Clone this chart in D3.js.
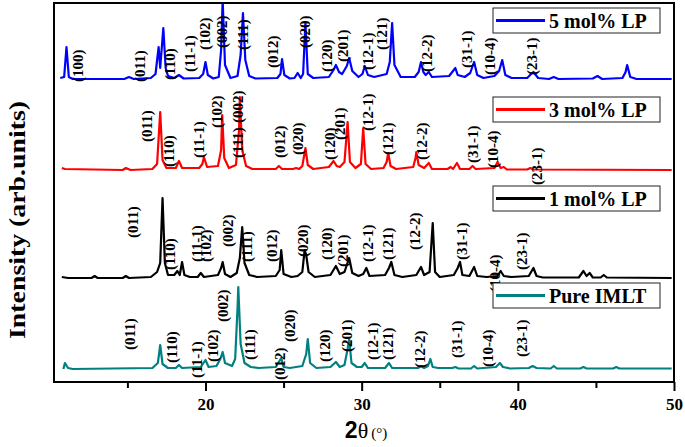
<!DOCTYPE html>
<html><head><meta charset="utf-8">
<script src="https://cdn.jsdelivr.net/npm/d3@7"></script>
<style>body{margin:0;background:#fff}svg{display:block}</style>
</head><body>
<svg id="c" width="685" height="447"></svg>
<script>
// ---------- DATA ----------
const seriesNames = ["5 mol% LP", "3 mol% LP", "1 mol% LP", "Pure IMLT"];
const seriesColors = ["#0000FF", "#FF0000", "#000000", "#008080"];
const seriesOffsets = [2890, 1990, 910, 0]; // stacking offsets (arb. units)
const xTicks = [20, 30, 40, 50];
const xMinorTicks = [15, 25, 35, 45];

const pattern5 = [[10.7,20],[10.95,30],[11.1,330],[11.25,30],[11.5,10],[14.8,10],[15.1,30],[15.4,10],[16.5,20],[16.8,60],[17.0,330],[17.1,120],[17.3,520],[17.45,120],[17.6,40],[18.0,20],[18.3,50],[18.6,15],[19.6,20],[19.85,60],[20.0,180],[20.15,50],[20.5,15],[20.85,30],[21.0,300],[21.1,800],[21.25,150],[21.6,20],[22.05,40],[22.25,250],[22.4,670],[22.55,200],[22.8,40],[23.2,15],[24.6,20],[24.8,60],[24.9,210],[25.05,50],[25.4,15],[25.7,20],[25.9,70],[26.1,20],[26.25,60],[26.4,570],[26.55,60],[26.9,20],[27.9,30],[28.2,100],[28.35,150],[28.55,80],[28.75,60],[29.05,140],[29.2,220],[29.4,90],[29.8,30],[30.05,60],[30.2,140],[30.4,50],[30.8,30],[31.6,60],[31.8,180],[31.95,570],[32.1,150],[32.5,30],[33.4,30],[33.65,80],[33.8,180],[33.95,80],[34.1,50],[34.3,80],[34.5,30],[35.6,40],[35.8,80],[36.0,120],[36.15,50],[36.6,30],[36.95,70],[37.2,180],[37.4,50],[37.8,20],[38.5,40],[38.8,90],[39.0,200],[39.2,50],[39.6,20],[40.6,20],[40.85,60],[41.0,80],[41.3,20],[42.0,10],[42.3,30],[42.6,10],[44.8,15],[45.1,40],[45.4,10],[46.7,20],[46.9,80],[47.0,150],[47.2,30],[47.6,10],[49.85,10]];
const pattern3 = [[10.8,20],[11.0,10],[14.7,0],[14.9,20],[15.2,0],[16.6,10],[16.9,60],[17.1,580],[17.25,100],[17.5,20],[18.1,20],[18.3,90],[18.5,20],[19.6,20],[19.8,60],[19.9,130],[20.1,30],[20.8,40],[21.0,200],[21.07,550],[21.2,120],[21.5,20],[21.95,50],[22.15,400],[22.2,730],[22.35,200],[22.6,40],[23.0,10],[24.5,10],[24.7,40],[24.9,10],[25.6,10],[25.8,20],[26.0,10],[26.2,40],[26.4,220],[26.55,50],[26.9,10],[27.9,30],[28.2,90],[28.4,40],[28.6,30],[28.9,80],[29.1,480],[29.25,80],[29.6,20],[29.95,60],[30.1,420],[30.25,60],[30.6,10],[31.4,20],[31.6,80],[31.7,170],[31.85,40],[32.2,10],[33.3,30],[33.45,120],[33.5,180],[33.65,50],[34.0,20],[34.3,70],[34.5,10],[35.5,10],[35.7,30],[35.85,10],[36.1,70],[36.3,10],[36.9,10],[37.1,40],[37.3,10],[38.5,20],[38.7,80],[38.9,20],[39.1,30],[39.3,5],[40.6,5],[40.8,20],[41.0,5],[49.85,0]];
const pattern1 = [[10.8,10],[11.2,0],[12.7,0],[12.9,20],[13.1,0],[14.7,0],[14.9,20],[15.1,0],[16.5,10],[16.9,60],[17.1,150],[17.25,800],[17.4,150],[17.6,30],[18.0,30],[18.2,70],[18.35,30],[18.5,160],[18.65,30],[19.0,10],[19.5,10],[19.7,50],[19.9,10],[20.8,30],[21.0,100],[21.1,160],[21.25,40],[21.6,10],[22.0,50],[22.2,200],[22.35,510],[22.5,150],[22.8,30],[23.3,10],[24.5,20],[24.75,80],[24.85,280],[25.0,40],[25.5,10],[25.9,20],[26.2,60],[26.35,280],[26.45,230],[26.6,60],[27.0,10],[28.0,30],[28.35,120],[28.6,40],[28.9,60],[29.2,200],[29.4,50],[29.8,20],[30.1,40],[30.3,100],[30.5,20],[31.5,30],[31.75,100],[31.9,160],[32.1,30],[32.6,10],[33.5,30],[33.8,110],[34.0,30],[34.35,60],[34.55,550],[34.7,60],[35.0,10],[35.9,30],[36.15,100],[36.3,160],[36.45,30],[36.9,20],[37.2,110],[37.4,20],[38.0,10],[38.7,20],[38.9,70],[39.1,20],[39.6,10],[40.7,20],[41.0,100],[41.2,20],[41.6,5],[43.9,5],[44.2,70],[44.4,20],[44.6,50],[44.8,5],[45.3,5],[45.5,30],[45.7,5],[49.85,0]];
const patternPure = [[10.9,0],[11.0,60],[11.2,10],[11.5,0],[16.6,10],[16.95,60],[17.1,240],[17.25,50],[17.6,10],[18.1,10],[18.3,40],[18.5,10],[19.7,20],[20.0,90],[20.2,20],[20.7,30],[20.95,100],[21.1,170],[21.25,60],[21.7,30],[21.9,100],[22.05,600],[22.1,820],[22.25,250],[22.5,60],[22.9,20],[23.4,10],[24.5,20],[24.85,110],[25.0,20],[25.4,10],[26.2,30],[26.45,150],[26.55,300],[26.7,60],[27.1,10],[28.0,20],[28.35,70],[28.6,20],[28.9,40],[29.1,200],[29.2,300],[29.35,60],[29.7,20],[30.0,20],[30.2,60],[30.4,10],[31.5,10],[31.75,60],[31.95,10],[33.6,10],[33.8,30],[34.0,10],[34.25,30],[34.4,100],[34.55,20],[34.9,10],[35.8,10],[36.0,20],[36.2,5],[37.0,5],[37.2,30],[37.4,5],[38.6,20],[38.85,60],[39.05,20],[39.5,5],[40.7,10],[40.95,30],[41.2,10],[42.1,5],[42.3,30],[42.5,5],[44.0,5],[44.2,20],[44.4,5],[46.1,5],[46.3,20],[46.5,5],[49.85,5]];

// hkl annotations: [label, 2theta, intensity level of label start above series baseline]
const hkl5 = [["(100)",11.84,-20],["(011)",15.8,-20],["(110)",17.73,0],["(11-1)",19.0,80],["(102)",19.97,300],["(002)",21.05,320],["(111)",22.4,300],["(012)",24.32,120],["(020)",26.37,320],["(120)",27.78,80],["(201)",28.8,180],["(12-1)",30.4,100],["(121)",31.3,300],["(12-2)",34.18,80],["(31-1)",36.74,120],["(10-4)",38.21,50],["(23-1)",40.9,50]];
const hkl3 = [["(011)",16.25,280],["(110)",17.66,30],["(11-1)",19.58,120],["(102)",20.74,420],["(002)",22.08,470],["(111)",22.08,120],["(012)",24.77,120],["(020)",25.92,150],["(120)",27.97,100],["(201)",28.61,300],["(12-1)",30.4,390],["(121)",31.68,150],["(12-2)",33.86,100],["(31-1)",37.1,70],["(10-4)",38.4,20],["(23-1)",41.2,-150]];
const hkl1 = [["(011)",15.36,400],["(110)",17.73,80],["(11-1)",19.45,160],["(102)",20.03,160],["(002)",21.44,310],["(111)",22.66,160],["(012)",24.26,160],["(020)",26.24,210],["(120)",27.78,180],["(201)",28.8,110],["(12-1)",30.4,160],["(121)",31.68,180],["(12-2)",33.41,280],["(31-1)",36.42,180],["(10-4)",38.53,-140],["(23-1)",40.26,80]];
const hklPure = [["(011)",15.17,190],["(110)",17.85,60],["(11-1)",19.45,-90],["(102)",20.48,70],["(002)",21.12,470],["(111)",22.85,90],["(012)",24.77,-110],["(020)",25.41,270],["(120)",27.65,70],["(201)",29.06,170],["(12-1)",30.72,90],["(121)",31.68,90],["(12-2)",33.73,10],["(31-1)",36.1,110],["(10-4)",38.08,20],["(23-1)",40.26,120]];

const patterns = [pattern5, pattern3, pattern1, patternPure];
const hklSets = [hkl5, hkl3, hkl1, hklPure];

// ---------- LAYOUT ----------
const W = 685, H = 447;
const L = 54, R = 674, T = 3, B = 382;
const svg = d3.select("#c");
const serif = "'Liberation Serif','Times New Roman',serif";

const x = d3.scaleLinear().domain([10.3, 50]).range([L, R]);
const y = d3.scaleLinear().domain([-130, 3660]).range([B, T]);

svg.append("defs").append("clipPath").attr("id", "clip")
  .append("rect").attr("x", L).attr("y", T).attr("width", R - L).attr("height", B - T);

const plot = svg.append("g").attr("clip-path", "url(#clip)");

const line = d3.line().x(d => x(d[0]));

patterns.forEach((p, i) => {
  const off = seriesOffsets[i];
  plot.append("path")
    .datum(p)
    .attr("fill", "none")
    .attr("stroke", seriesColors[i])
    .attr("stroke-width", 2.2)
    .attr("stroke-linejoin", "round")
    .attr("d", line.y(d => y(d[1] + off)));
});

// hkl labels
hklSets.forEach((set, i) => {
  const off = seriesOffsets[i];
  svg.append("g").selectAll("text").data(set).join("text")
    .attr("transform", d => `translate(${x(d[1])},${y(d[2] + off)}) rotate(-90)`)
    .attr("dominant-baseline", "central")
    .attr("font-family", serif)
    .attr("font-weight", "bold")
    .attr("font-size", 15)
    .attr("fill", "#000")
    .text(d => d[0]);
});

// legends (one box per series)
const legendTops = [8, 97, 186, 283];
seriesNames.forEach((name, i) => {
  const g = svg.append("g").attr("transform", `translate(493,${legendTops[i]})`);
  g.append("rect").attr("width", 167).attr("height", 25)
    .attr("fill", "#fff").attr("stroke", "#222").attr("stroke-width", 1);
  g.append("line").attr("x1", 3).attr("x2", 52).attr("y1", 12.5).attr("y2", 12.5)
    .attr("stroke", seriesColors[i]).attr("stroke-width", 3);
  g.append("text").attr("x", 56).attr("y", 19.5)
    .attr("font-family", serif).attr("font-weight", "bold").attr("font-size", 20)
    .attr("fill", "#000").text(name);
});

// frame
svg.append("rect").attr("x", L).attr("y", T).attr("width", R - L).attr("height", B - T)
  .attr("fill", "none").attr("stroke", "#000").attr("stroke-width", 2);

// x axis
const xAxis = d3.axisBottom(x).tickValues(xTicks).tickSize(9).tickPadding(7).tickFormat(d3.format("d"));
const gx = svg.append("g").attr("transform", `translate(0,${B})`).call(xAxis);
gx.select(".domain").remove();
gx.selectAll(".tick line").attr("stroke", "#000").attr("stroke-width", 2);
gx.selectAll(".tick text").attr("font-family", serif).attr("font-weight", "bold")
  .attr("font-size", 17).attr("fill", "#000");
const gxm = svg.append("g").attr("transform", `translate(0,${B})`)
  .call(d3.axisBottom(x).tickValues(xMinorTicks).tickSize(6).tickFormat(""));
gxm.select(".domain").remove();
gxm.selectAll(".tick line").attr("stroke", "#000").attr("stroke-width", 2);

// x title
const xt = svg.append("text").attr("x", 366).attr("y", 438).attr("text-anchor", "middle").attr("fill", "#000");
xt.append("tspan").attr("font-family", "'Liberation Sans',Arial,sans-serif").attr("font-weight", "bold").attr("font-size", 23).text("2");
xt.append("tspan").attr("font-family", serif).attr("font-size", 22).text("θ");
xt.append("tspan").attr("font-family", serif).attr("font-size", 15).attr("dx", 3).text("(°)");

// y title
svg.append("text").attr("transform", "translate(25,220) rotate(-90)")
  .attr("text-anchor", "middle").attr("font-family", serif).attr("font-weight", "bold")
  .attr("font-size", 23).attr("textLength", 238).attr("lengthAdjust", "spacingAndGlyphs")
  .attr("fill", "#000").text("Intensity (arb.units)");
</script>
</body></html>
